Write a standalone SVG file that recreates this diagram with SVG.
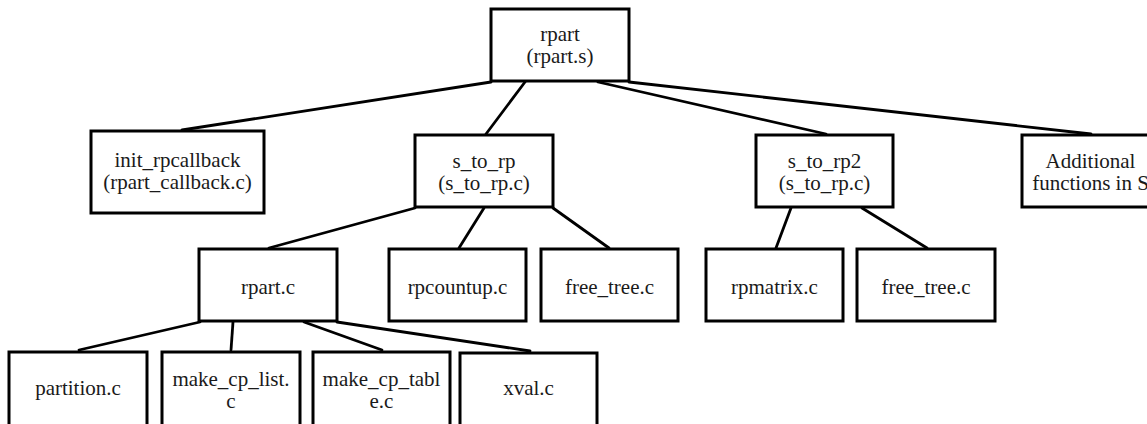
<svg xmlns="http://www.w3.org/2000/svg" width="1147" height="424" viewBox="0 0 1147 424">
  <style>
    .box { fill: #ffffff; stroke: #000000; stroke-width: 3; }
    .lbl { font-family: "Liberation Serif", "Times New Roman", serif; font-size: 21px; fill: #1a1a1a; text-anchor: middle; }
    .edge { stroke: #000000; stroke-width: 2.8; fill: none; stroke-linecap: round; }
  </style>
  <rect x="0" y="0" width="1147" height="424" fill="#ffffff"/>

  <!-- connectors -->
  <g id="connectors">
    <line class="edge" x1="491" y1="82" x2="182" y2="130"/>
    <line class="edge" x1="525" y1="82" x2="486" y2="134"/>
    <line class="edge" x1="598" y1="82" x2="826" y2="134"/>
    <line class="edge" x1="629" y1="82" x2="1091" y2="134"/>
    <line class="edge" x1="415" y1="208" x2="269" y2="248"/>
    <line class="edge" x1="484" y1="208" x2="459" y2="248"/>
    <line class="edge" x1="553" y1="208" x2="609" y2="248"/>
    <line class="edge" x1="791" y1="208" x2="776" y2="248"/>
    <line class="edge" x1="862" y1="208" x2="927" y2="248"/>
    <line class="edge" x1="200" y1="322" x2="79" y2="350"/>
    <line class="edge" x1="233" y1="322" x2="231" y2="350"/>
    <line class="edge" x1="304" y1="322" x2="382" y2="350"/>
    <line class="edge" x1="337" y1="322" x2="530" y2="351"/>
  </g>

  <!-- level 0 -->
  <g id="rpart">
    <rect class="box" x="491" y="9" width="138" height="72"/>
    <text class="lbl" x="560" y="41">rpart</text>
    <text class="lbl" x="560" y="63">(rpart.s)</text>
  </g>

  <!-- level 1 -->
  <g id="init_rpcallback">
    <rect class="box" x="91" y="131" width="173" height="82"/>
    <text class="lbl" x="177.5" y="167">init_rpcallback</text>
    <text class="lbl" x="177.5" y="189">(rpart_callback.c)</text>
  </g>
  <g id="s_to_rp">
    <rect class="box" x="415" y="135" width="138" height="72"/>
    <text class="lbl" x="484" y="168">s_to_rp</text>
    <text class="lbl" x="484" y="190">(s_to_rp.c)</text>
  </g>
  <g id="s_to_rp2">
    <rect class="box" x="756" y="135" width="137" height="72"/>
    <text class="lbl" x="824.5" y="168">s_to_rp2</text>
    <text class="lbl" x="824.5" y="190">(s_to_rp.c)</text>
  </g>
  <g id="additional">
    <rect class="box" x="1022" y="135" width="137" height="72"/>
    <text class="lbl" x="1090.5" y="168">Additional</text>
    <text class="lbl" x="1090.5" y="190">functions in S</text>
  </g>

  <!-- level 2 -->
  <g id="rpart_c">
    <rect class="box" x="199" y="249" width="138" height="72"/>
    <text class="lbl" x="268" y="294">rpart.c</text>
  </g>
  <g id="rpcountup">
    <rect class="box" x="389" y="249" width="137" height="72"/>
    <text class="lbl" x="457.5" y="294">rpcountup.c</text>
  </g>
  <g id="free_tree_1">
    <rect class="box" x="541" y="249" width="137" height="72"/>
    <text class="lbl" x="609.5" y="294">free_tree.c</text>
  </g>
  <g id="rpmatrix">
    <rect class="box" x="706" y="249" width="137" height="72"/>
    <text class="lbl" x="774.5" y="294">rpmatrix.c</text>
  </g>
  <g id="free_tree_2">
    <rect class="box" x="857" y="249" width="138" height="72"/>
    <text class="lbl" x="926" y="294">free_tree.c</text>
  </g>

  <!-- level 3 -->
  <g id="partition">
    <rect class="box" x="9" y="352" width="138" height="74"/>
    <text class="lbl" x="78" y="395">partition.c</text>
  </g>
  <g id="make_cp_list">
    <rect class="box" x="162" y="352" width="138" height="74"/>
    <text class="lbl" x="231" y="386">make_cp_list.</text>
    <text class="lbl" x="231" y="408">c</text>
  </g>
  <g id="make_cp_table">
    <rect class="box" x="313" y="352" width="137" height="74"/>
    <text class="lbl" x="381.5" y="386">make_cp_tabl</text>
    <text class="lbl" x="381.5" y="408">e.c</text>
  </g>
  <g id="xval">
    <rect class="box" x="460" y="353" width="137" height="74"/>
    <text class="lbl" x="528.5" y="395">xval.c</text>
  </g>
</svg>
